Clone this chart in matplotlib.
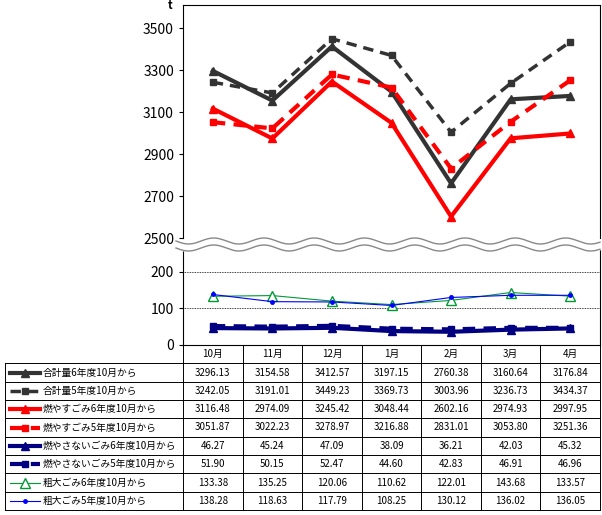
import matplotlib
matplotlib.use("Agg")
import matplotlib.pyplot as plt
import numpy as np

plt.rcParams['font.family'] = ['Noto Sans CJK JP']

months = ['10月', '11月', '12月', '1月', '2月', '3月', '4月']
total6 = [3296.13, 3154.58, 3412.57, 3197.15, 2760.38, 3160.64, 3176.84]
total5 = [3242.05, 3191.01, 3449.23, 3369.73, 3003.96, 3236.73, 3434.37]
burn6 = [3116.48, 2974.09, 3245.42, 3048.44, 2602.16, 2974.93, 2997.95]
burn5 = [3051.87, 3022.23, 3278.97, 3216.88, 2831.01, 3053.80, 3251.36]
nonburn6 = [46.27, 45.24, 47.09, 38.09, 36.21, 42.03, 45.32]
nonburn5 = [51.90, 50.15, 52.47, 44.60, 42.83, 46.91, 46.96]
bulky6 = [133.38, 135.25, 120.06, 110.62, 122.01, 143.68, 133.57]
bulky5 = [138.28, 118.63, 117.79, 108.25, 130.12, 136.02, 136.05]
labels = ['合計量6年度10月から', '合計量5年度10月から', '燃やすごみ6年度10月から', '燃やすごみ5年度10月から',
          '燃やさないごみ6年度10月から', '燃やさないごみ5年度10月から', '粗大ごみ6年度10月から', '粗大ごみ5年度10月から']

styles = [
    dict(color='#333333', lw=3, ls='-', marker='^', ms=6, mfc='#333333'),
    dict(color='#333333', lw=2.5, ls=(0, (3, 2)), marker='s', ms=5, mfc='#333333'),
    dict(color='#ff0000', lw=3, ls='-', marker='^', ms=6, mfc='#ff0000'),
    dict(color='#ff0000', lw=3, ls=(0, (3, 2)), marker='s', ms=5, mfc='#ff0000'),
    dict(color='#000080', lw=3, ls='-', marker='^', ms=6, mfc='#000080'),
    dict(color='#000080', lw=3, ls=(0, (3, 2)), marker='s', ms=5, mfc='#000080'),
    dict(color='#009933', lw=0.8, ls='-', marker='^', ms=7, mfc='white'),
    dict(color='#0000ff', lw=0.8, ls='-', marker='o', ms=2.5, mfc='#0000ff'),
]
series = [total6, total5, burn6, burn5, nonburn6, nonburn5, bulky6, bulky5]

W, H = 602, 515
fig = plt.figure(figsize=(W/100, H/100), dpi=100)

def rect(x0, y0, x1, y1):
    return [x0/W, 1-y1/H, (x1-x0)/W, (y1-y0)/H]

x = np.arange(len(months))
axt = fig.add_axes(rect(183, 5, 600, 238))
axb = fig.add_axes(rect(183, 250, 600, 345))
for i, (s, st) in enumerate(zip(series, styles)):
    ax = axt if i < 4 else axb
    ax.plot(x, s, **st, mec=st['color'], zorder=3)
for ax in (axt, axb):
    ax.set_xlim(-0.5, 6.5)
    ax.set_xticks([])
    ax.tick_params(labelsize=10, length=3)
axt.set_ylim(2500, 3610)
axt.set_yticks([2500, 2700, 2900, 3100, 3300, 3500])
axt.spines['bottom'].set_visible(False)
axb.set_ylim(0, 260)
axb.set_yticks([0, 100, 200])
axb.spines['top'].set_visible(False)
for v in (100, 200):
    axb.axhline(v, color='black', lw=0.6, ls=(0, (1, 1)), zorder=1)
fig.text(168/W, 1-9/H, 't', fontsize=8, fontweight='bold')

# break wave
ov = fig.add_axes([0, 0, 1, 1], zorder=5)
ov.set_xlim(0, W); ov.set_ylim(H, 0); ov.axis('off')
xs = np.linspace(176, 600, 400)
w1 = 241 + 3*np.sin((xs-176)/8)
w2 = 248 + 3*np.sin((xs-176)/8)
ov.fill_between(xs, w1, w2, color='white', zorder=1)
ov.plot(xs, w1, color='#888888', lw=1)
ov.plot(xs, w2, color='#888888', lw=1)

# table
tx0, tx1, ty0, ty1 = 5, 600, 345, 510
nrows = 9
rh = (ty1 - ty0) / nrows
cw = (tx1 - 183) / 7
for r in range(nrows + 1):
    y = ty0 + r*rh
    ov.plot([tx0 if r > 0 else 183, tx1], [y, y], color='black', lw=0.7)
ov.plot([tx0, tx0], [ty0+rh, ty1], color='black', lw=0.7)
for c in range(8):
    xc = 183 + c*cw
    ov.plot([xc, xc], [ty0, ty1], color='black', lw=0.7)
for c, m in enumerate(months):
    ov.text(183 + (c+0.5)*cw, ty0 + rh/2, m, ha='center', va='center', fontsize=7)
for r, (lab, s, st) in enumerate(zip(labels, series, styles)):
    yc = ty0 + (r+1.5)*rh
    ov.plot([10, 40], [yc, yc], color=st['color'], lw=st['lw'], ls=st['ls'])
    ov.plot([25], [yc], marker=st['marker'], ms=st['ms'], color=st['color'], mfc=st['mfc'], ls='none')
    ov.text(43, yc, lab, ha='left', va='center', fontsize=7)
    for c, v in enumerate(s):
        ov.text(183 + (c+0.5)*cw, yc, f'{v:.2f}', ha='center', va='center', fontsize=7)

fig.savefig('out.png', dpi=100)
